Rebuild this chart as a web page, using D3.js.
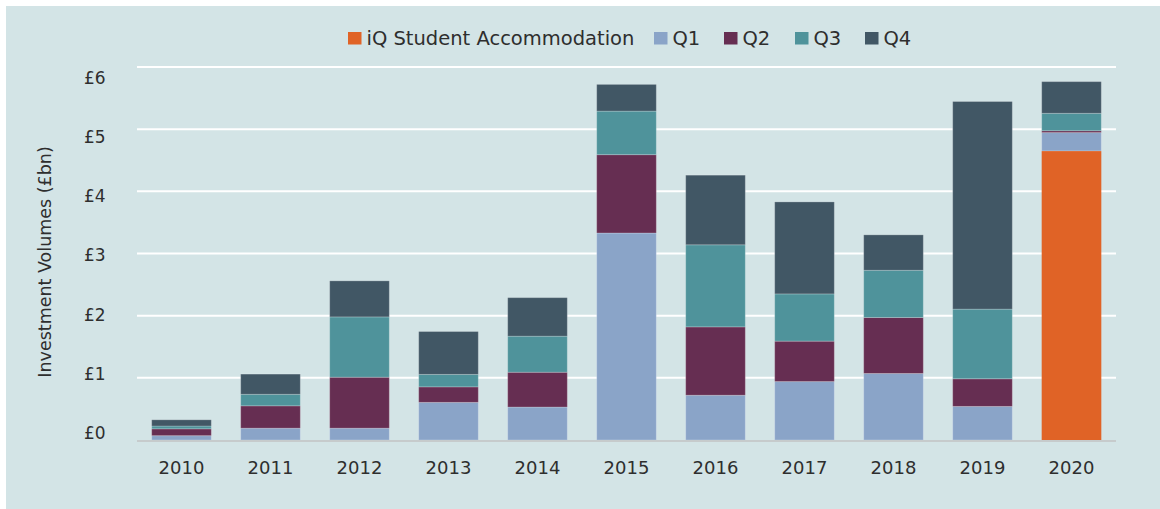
<!DOCTYPE html>
<html><head><meta charset="utf-8">
<script src="https://cdn.jsdelivr.net/npm/d3@7"></script>
<style>
html,body{margin:0;padding:0;background:#fff;}
svg{display:block;}
text{font-family:"DejaVu Sans",sans-serif;fill:#2e2e2e;}
</style></head><body>
<svg id="chart" width="1160" height="509"></svg>
<script>
const years = ["2010","2011","2012","2013","2014","2015","2016","2017","2018","2019","2020"];
const seriesNames = ["iQ Student Accommodation","Q1","Q2","Q3","Q4"];
const iQ = [0,0,0,0,0,0,0,0,0,0,4.65];
const q1 = [0.07,0.19,0.19,0.605,0.53,3.33,0.72,0.94,1.07,0.54,0.295];
const q2 = [0.11,0.36,0.82,0.25,0.56,1.26,1.10,0.65,0.90,0.445,0.03];
const q3 = [0.045,0.185,0.97,0.20,0.58,0.70,1.32,0.76,0.76,1.12,0.28];
const q4 = [0.10,0.325,0.58,0.69,0.62,0.43,1.12,1.48,0.57,3.34,0.51];
const yTicks = [0,1,2,3,4,5,6];
const colors = ["#e06326","#8aa4c8","#662e52","#4f939b","#415765"];

const svg = d3.select("#chart");
svg.append("rect").attr("x",6).attr("y",6).attr("width",1154).attr("height",503).attr("fill","#d3e4e6");

const mLeft=137, mRight=1116, mTop=67, mBottom=440;
const x = d3.scaleBand().domain(years).range([mLeft,mRight]).paddingInner(0.33).paddingOuter(0.165);
const y = d3.scaleLinear().domain([0,6]).range([mBottom,mTop]);
// tick labels in the reference sit on a slightly compressed scale
const yLab = d3.scaleLinear().domain([0,6]).range([433,78]);

// gridlines
svg.append("g").selectAll("line").data(yTicks.filter(d=>d>0)).join("line")
  .attr("x1",mLeft).attr("x2",mRight).attr("y1",d=>y(d)).attr("y2",d=>y(d))
  .attr("stroke","#ffffff").attr("stroke-width",2);

// y labels
svg.append("g").selectAll("text").data(yTicks).join("text")
  .attr("x",84).attr("y",d=>yLab(d)).attr("dy","0.35em")
  .attr("font-size",17).text(d=>"£"+d);

// stacked data
const table = years.map((yr,i)=>({year:yr,"iQ Student Accommodation":iQ[i],Q1:q1[i],Q2:q2[i],Q3:q3[i],Q4:q4[i]}));
const stack = d3.stack().keys(seriesNames)(table);
const color = d3.scaleOrdinal().domain(seriesNames).range(colors);

svg.append("g").selectAll("g").data(stack).join("g")
  .attr("fill",d=>color(d.key))
  .selectAll("rect").data(d=>d.filter(p=>p[1]-p[0]>0).map(p=>Object.assign(p,{key:d.key}))).join("rect")
  .attr("x",d=>x(d.data.year)).attr("width",x.bandwidth())
  .attr("y",d=>y(d[1])).attr("height",d=>y(d[0])-y(d[1]))
  .attr("stroke",d=>d.key==="iQ Student Accommodation"?"none":"rgba(255,255,255,0.22)")
  .attr("stroke-width",1);

// baseline
svg.append("line").attr("x1",mLeft).attr("x2",mRight).attr("y1",mBottom+1).attr("y2",mBottom+1)
  .attr("stroke","#c6cbcc").attr("stroke-width",2);

// x labels
svg.append("g").selectAll("text").data(years).join("text")
  .attr("x",d=>x(d)+x.bandwidth()/2).attr("y",474).attr("text-anchor","middle")
  .attr("font-size",18).text(d=>d);

// y title
svg.append("text").attr("transform","translate(51,262) rotate(-90)").attr("text-anchor","middle")
  .attr("font-size",17.5).text("Investment Volumes (£bn)");

// legend
const legendX = [348,654,724,795,865];
const lg = svg.append("g").selectAll("g").data(seriesNames).join("g")
  .attr("transform",(d,i)=>`translate(${legendX[i]},32)`);
lg.append("rect").attr("width",13.5).attr("height",12.5).attr("fill",d=>color(d));
lg.append("text").attr("x",18.5).attr("y",6.5).attr("dy","0.35em").attr("font-size",19.5).text(d=>d);
</script>
</body></html>
